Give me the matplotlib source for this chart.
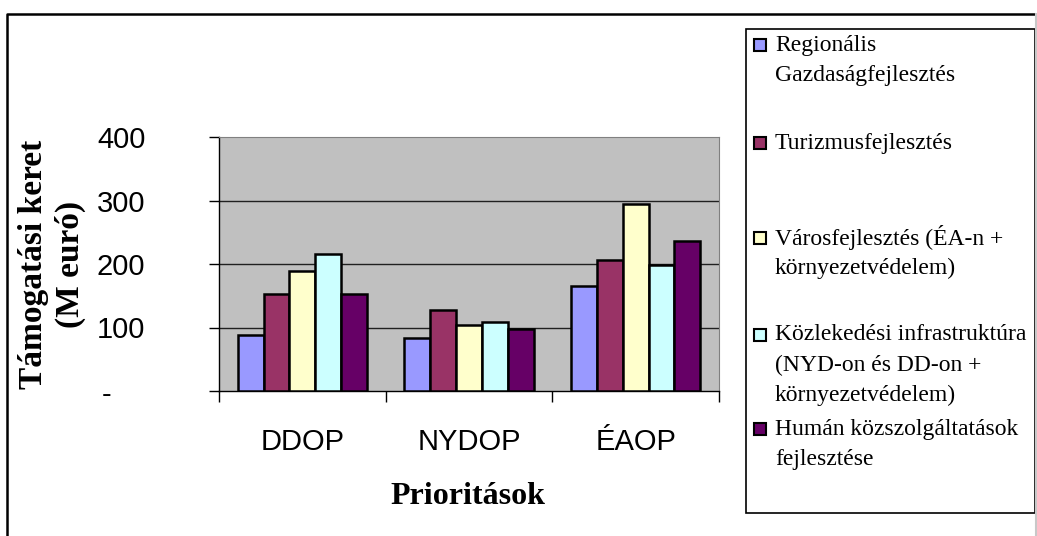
import matplotlib.pyplot as plt
import numpy as np
from matplotlib.patches import Rectangle
from matplotlib.lines import Line2D

categories = ['DDOP', 'NYDOP', 'ÉAOP']
series_names = ['Regionális\nGazdaságfejlesztés',
                'Turizmusfejlesztés',
                'Városfejlesztés (ÉA-n +\nkörnyezetvédelem)',
                'Közlekedési infrastruktúra\n(NYD-on és DD-on +\nkörnyezetvédelem)',
                'Humán közszolgáltatások\nfejlesztése']
regionalis = [88, 84, 166]
turizmus = [152, 128, 206]
varos = [189, 104, 294]
kozlekedes = [216, 108, 199]
human = [152, 98, 237]
series = [regionalis, turizmus, varos, kozlekedes, human]
colors = ['#9999FF', '#993366', '#FFFFCC', '#CCFFFF', '#660066']
yticks = [100, 200, 300, 400]

W, H = 1037, 536
fig = plt.figure(figsize=(W / 100, H / 100), dpi=100)

def fx(px):
    return px / W

def fy(py):
    return 1 - py / H

# outer chart frame (bottom runs off the picture)
fig.lines.append(Line2D([fx(7), fx(7), fx(1036)], [fy(560), fy(14), fy(14)],
                        transform=fig.transFigure, color='black', lw=1.8))
fig.lines.append(Line2D([fx(1036), fx(1036)], [fy(14), fy(560)],
                        transform=fig.transFigure, color='#c8c8c8', lw=1.5))

ax = fig.add_axes([fx(219), fy(391), fx(719) - fx(219), fy(137) - fy(391)])
ax.set_facecolor('#C0C0C0')

x = np.arange(len(categories))
bw = 0.155
for i, vals in enumerate(series):
    ax.bar(x + (i - 2) * bw, vals, bw, color=colors[i], edgecolor='black',
           linewidth=1.8, zorder=3)

ax.set_xlim(-0.5, len(categories) - 0.5)
ax.set_ylim(0, 400)
for v in yticks[:-1]:
    ax.axhline(v, color='#202020', lw=1, zorder=1)

for s in ['top', 'right']:
    ax.spines[s].set_color('#808080')
for s in ['left', 'bottom']:
    ax.spines[s].set_color('black')
    ax.spines[s].set_linewidth(1)

ax.set_yticks([0] + yticks)
ax.set_yticklabels([''] + [str(v) for v in yticks], fontsize=21,
                   family='Liberation Sans')
ax.tick_params(axis='y', length=7, pad=46, width=1)

ax.set_xticks(np.arange(len(categories) + 1) - 0.5)
ax.set_xticklabels([])
ax.set_xticks(x, minor=True)
ax.set_xticklabels(categories, minor=True, fontsize=21, family='Liberation Sans')
ax.tick_params(axis='x', which='major', length=8, width=1)
ax.tick_params(axis='x', which='minor', length=0, pad=27)

fig.text(fx(107), fy(395), '-', fontsize=21, family='Liberation Sans',
         ha='center', va='center')

fig.text(fx(52), fy(264), 'Támogatási keret\n(M euró)', rotation=90,
         fontsize=24, fontweight='bold', family='Liberation Serif',
         ha='center', va='center', multialignment='center', linespacing=1.25)
fig.text(fx(468), fy(497), 'Prioritások', fontsize=23, fontweight='bold',
         family='Liberation Serif', ha='center', va='center')

# legend box
fig.patches.append(Rectangle((fx(746), fy(513)), fx(1035) - fx(746), fy(29) - fy(513),
                             transform=fig.transFigure, fill=False,
                             edgecolor='black', lw=1.2))
row_y = [45, 143, 238, 335, 429]
for i, name in enumerate(series_names):
    fig.patches.append(Rectangle((fx(754), fy(row_y[i] + 6)), fx(12), 12 / H,
                                 transform=fig.transFigure, facecolor=colors[i],
                                 edgecolor='black', lw=1.5))
    for j, line in enumerate(name.split('\n')):
        fig.text(fx(775), fy(row_y[i] + 30 * j), line, fontsize=17,
                 family='Liberation Serif', ha='left', va='center')

fig.savefig('out.png', dpi=100)
